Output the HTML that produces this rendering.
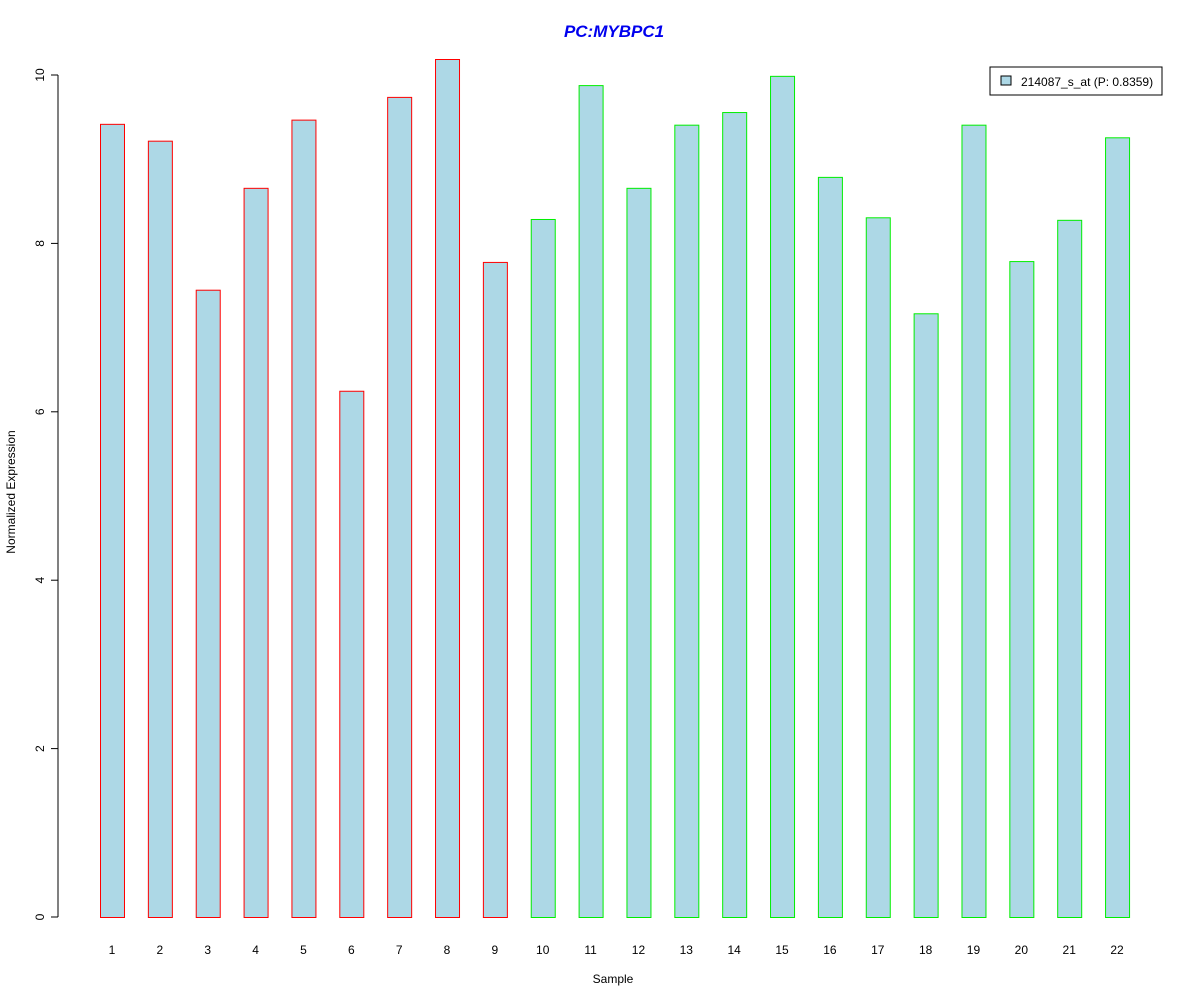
<!DOCTYPE html>
<html><head><meta charset="utf-8"><style>
body{margin:0;background:#fff;}
svg text{font-family:"Liberation Sans",Arial,sans-serif;}
</style></head><body>
<svg id="chart" width="1200" height="1000" xmlns="http://www.w3.org/2000/svg">
<rect width="1200" height="1000" fill="#fff"/>
<text x="614" y="37" text-anchor="middle" font-size="17" font-weight="bold" font-style="italic" fill="#0000ee">PC:MYBPC1</text>
<text x="613" y="983" text-anchor="middle" font-size="12">Sample</text>
<text transform="translate(15,492) rotate(-90)" text-anchor="middle" font-size="12">Normalized Expression</text>
<g id="yaxis"></g>
<g id="bars"></g>
<g id="xlabels"></g>
<g>
<rect x="990" y="67" width="172" height="28" fill="#fff" stroke="#000"/>
<rect x="1001" y="76" width="10" height="9" fill="#add8e6" stroke="#000"/>
<text x="1021" y="86" font-size="12">214087_s_at (P: 0.8359)</text>
</g>
</svg>
<script>
const categories=["1","2","3","4","5","6","7","8","9","10","11","12","13","14","15","16","17","18","19","20","21","22"];
const values=[9.42,9.22,7.45,8.66,9.47,6.25,9.74,10.19,7.78,8.29,9.88,8.66,9.41,9.56,9.99,8.79,8.31,7.17,9.41,7.79,8.28,9.26];
const groups=["red","red","red","red","red","red","red","red","red","green","green","green","green","green","green","green","green","green","green","green","green","green"];
const yTicks=[0,2,4,6,8,10];
const NS="http://www.w3.org/2000/svg";
const y=v=>917-v*84.2;
const x=i=>100+i*47.86;
const bw=24;
function mk(tag,attrs,parent){const e=document.createElementNS(NS,tag);for(const k in attrs)e.setAttribute(k,attrs[k]);parent.appendChild(e);return e;}
const ya=document.getElementById('yaxis');
let l=mk('line',{x1:58,x2:58,y1:y(10),y2:y(0),stroke:'#000'},ya);


yTicks.forEach(t=>{
 const tk=mk('line',{x1:51,x2:58,y1:y(t),y2:y(t),stroke:'#000'},ya);
 
 
 const tx=mk('text',{transform:`translate(44,${y(t)}) rotate(-90)`,'text-anchor':'middle','font-size':12},ya);
 tx.textContent=t;
 
 
});
const bg=document.getElementById('bars'),xl=document.getElementById('xlabels');
values.forEach((v,i)=>{
 const r=mk('rect',{x:x(i)+0.5,y:y(v)+0.5,width:bw,height:y(0)-y(v),fill:'#add8e6',stroke:groups[i]==='red'?'#ff0000':'#00ee00'},bg);
 
 
 const t=mk('text',{x:x(i)+bw/2,y:954,'text-anchor':'middle','font-size':12},xl);
 t.textContent=categories[i];
 
 
});
</script>
</body></html>
